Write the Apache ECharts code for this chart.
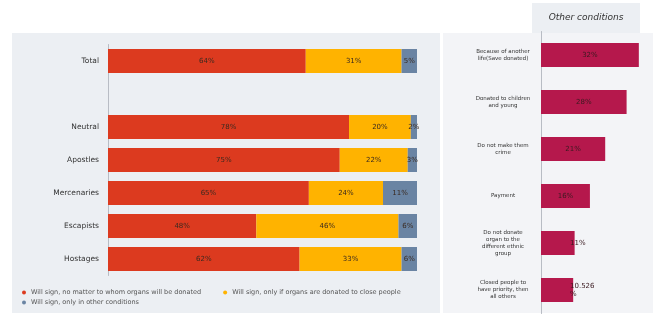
<!DOCTYPE html>
<html>
<head>
<meta charset="utf-8">
<script src="https://cdn.jsdelivr.net/npm/echarts@6/dist/echarts.min.js"></script>
<style>
  html, body { margin: 0; padding: 0; background: #fff; }
  #chart { width: 655px; height: 315px; }
</style>
</head>
<body>
<div id="chart"></div>
<script>
// groups (empty slot between Total and the segments)
const groups = ['Total', '', 'Neutral', 'Apostles', 'Mercenaries', 'Escapists', 'Hostages'];
const anyWay = [64, '-', 78, 75, 65, 48, 62];
const closeOnly = [31, '-', 20, 22, 24, 46, 33];
const otherCond = [5, '-', 2, 3, 11, 6, 6];

const conditions = [
    'Because of another\nlife(Save donated)',
    'Donated to children\nand young',
    'Do not make them\ncrime',
    'Payment',
    'Do not donate\norgan to the\ndifferent ethnic\ngroup',
    'Closed people to\nhave priority, then\nall others'
];
const conditionShare = [32, 28, 21, 16, 11, 10.526];

const seriesNames = [
    'Will sign, no matter to whom organs will be donated',
    'Will sign, only if organs are donated to close people',
    'Will sign, only in other conditions'
];
const colors = ['#dc3a1f', '#ffb300', '#6a84a3'];

const chart = echarts.init(document.getElementById('chart'));

const pctLabel = {
    show: true,
    position: 'inside',
    fontSize: 7,
    color: '#3a2a20',
    fontFamily: 'DejaVu Sans',
    formatter: p => p.value + '%'
};

function stackSeries(name, data, color) {
    return {
        name: name,
        type: 'bar',
        stack: 'all',
        xAxisIndex: 0,
        yAxisIndex: 0,
        barWidth: 24,
        itemStyle: { color: color },
        label: pctLabel,
        data: data
    };
}

const legendBase = {
    icon: 'circle',
    itemWidth: 4,
    itemHeight: 4,
    itemGap: 22,
    padding: 0,
    textStyle: { fontSize: 6.5, color: '#555', fontFamily: 'DejaVu Sans' }
};

const option = {
    animation: false,
    graphic: [
        { type: 'rect', shape: { x: 12, y: 33, width: 428, height: 280 }, style: { fill: '#eceff3' }, z: -10 },
        { type: 'rect', shape: { x: 443, y: 33, width: 210, height: 280 }, style: { fill: '#f3f4f7' }, z: -10 },
        { type: 'rect', shape: { x: 532, y: 3, width: 108, height: 30 }, style: { fill: '#eceff3' }, z: -10 },
        {
            type: 'text', z: 10,
            style: { x: 586, y: 18, text: 'Other conditions', fontSize: 9, fontStyle: 'italic', fill: '#333', fontFamily: 'DejaVu Sans', align: 'center', verticalAlign: 'middle' }
        }
    ],
    legend: [
        Object.assign({ left: 22, top: 289, data: seriesNames.slice(0, 2) }, legendBase),
        Object.assign({ left: 22, top: 299, data: seriesNames.slice(2) }, legendBase)
    ],
    grid: [
        { left: 108, right: 238, top: 44.5, height: 231 },
        { left: 541, width: 107, top: 31.5, height: 282 }
    ],
    xAxis: [
        { gridIndex: 0, type: 'value', min: 0, max: 100, show: false },
        { gridIndex: 1, type: 'value', min: 0, max: 35, show: false }
    ],
    yAxis: [
        {
            gridIndex: 0,
            type: 'category',
            inverse: true,
            data: groups,
            axisLine: { lineStyle: { color: '#b8bcc4' } },
            axisTick: { lineStyle: { color: '#b8bcc4' }, length: 3 },
            axisLabel: { fontSize: 7.5, color: '#333', margin: 9, fontFamily: 'DejaVu Sans' }
        },
        {
            gridIndex: 1,
            type: 'category',
            inverse: true,
            data: conditions,
            axisLine: { lineStyle: { color: '#b8bcc4' } },
            axisTick: { lineStyle: { color: '#b8bcc4' }, length: 3 },
            axisLabel: { fontSize: 5.5, lineHeight: 7, color: '#333', align: 'center', margin: 38, fontFamily: 'DejaVu Sans' }
        }
    ],
    series: [
        stackSeries(seriesNames[0], anyWay, colors[0]),
        stackSeries(seriesNames[1], closeOnly, colors[1]),
        stackSeries(seriesNames[2], otherCond, colors[2]),
        {
            type: 'bar',
            xAxisIndex: 1,
            yAxisIndex: 1,
            barWidth: 24,
            itemStyle: { color: '#b5184c' },
            label: {
                show: true,
                position: 'inside',
                fontSize: 7,
                lineHeight: 8,
                color: '#3a1a20',
                fontFamily: 'DejaVu Sans',
                formatter: p => p.value === 10.526 ? '10.526\n%' : p.value + '%'
            },
            data: conditionShare.map((v, i) => i >= 4
                ? { value: v, label: { position: 'insideLeft', offset: [24, 0] } }
                : v)
        }
    ]
};

chart.setOption(option);
</script>
</body>
</html>
